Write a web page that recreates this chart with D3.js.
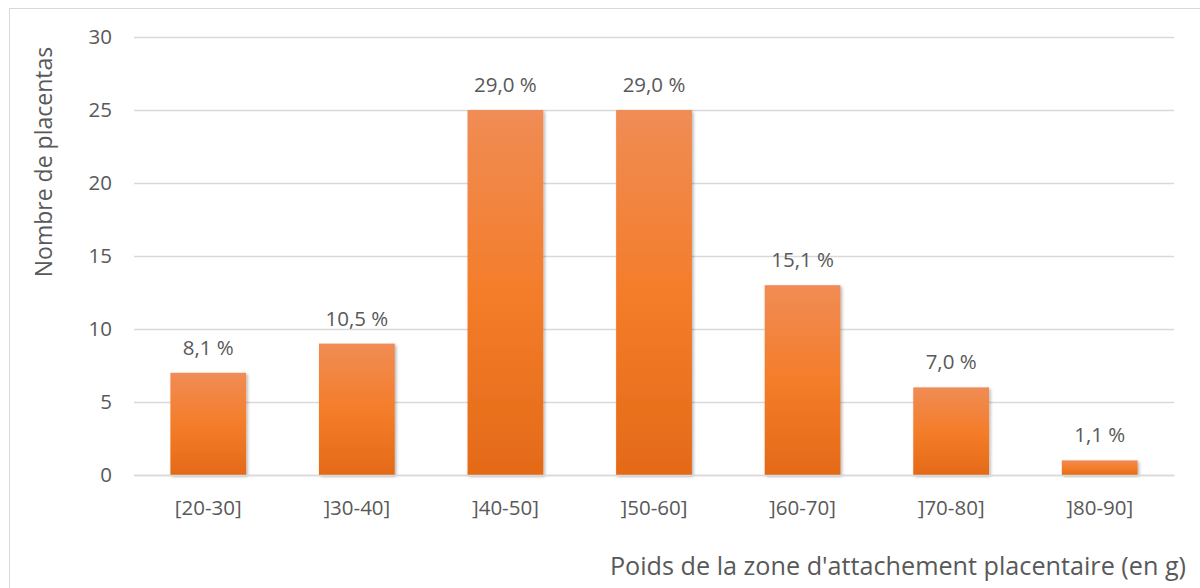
<!DOCTYPE html>
<html>
<head>
<meta charset="utf-8">
<script src="https://cdn.jsdelivr.net/npm/d3@7"></script>
<style>
  body { margin: 0; background: #fff; }
  svg { display: block; font-family: "Open Sans", sans-serif; }
</style>
</head>
<body>
<svg id="chart" width="1200" height="588"></svg>
<script>
// classes de poids (g)
const categories = ["[20-30]", "]30-40]", "]40-50]", "]50-60]", "]60-70]", "]70-80]", "]80-90]"]
const counts = [7, 9, 25, 25, 13, 6, 1]
const percentLabels = ["8,1 %", "10,5 %", "29,0 %", "29,0 %", "15,1 %", "7,0 %", "1,1 %"]
const yTicks = [0, 5, 10, 15, 20, 25, 30]

const yTitle = "Nombre de placentas"
const xTitle = "Poids de la zone d'attachement placentaire (en g)"

const setup = () => {
	const svg = d3.select("#chart")
	const plot = { left: 134, right: 1174, top: 37, bottom: 475 }
	const textColor = "#595959"
	const fontSize = 20.5

	// cadre du graphique
	svg.append("rect")
	   .attr("x", 9.5)
	   .attr("y", 8.5)
	   .attr("width", 1220)
	   .attr("height", 620)
	   .attr("fill", "none")
	   .attr("stroke", "#d9d9d9")

	const defs = svg.append("defs")
	const grad = defs.append("linearGradient")
	                 .attr("id", "barGrad")
	                 .attr("x1", 0).attr("y1", 0)
	                 .attr("x2", 0).attr("y2", 1)
	grad.append("stop").attr("offset", "0%").attr("stop-color", "#f08c55")
	grad.append("stop").attr("offset", "50%").attr("stop-color", "#f47d2a")
	grad.append("stop").attr("offset", "100%").attr("stop-color", "#e46a18")

	const shadow = defs.append("filter")
	                   .attr("id", "shadow")
	                   .attr("x", "-10%").attr("y", "-10%")
	                   .attr("width", "130%").attr("height", "130%")
	shadow.append("feDropShadow")
	      .attr("dx", 1.5).attr("dy", 1.5)
	      .attr("stdDeviation", 1.8)
	      .attr("flood-color", "#000")
	      .attr("flood-opacity", 0.3)

	const x = d3.scaleBand()
	            .domain(categories)
	            .range([plot.left, plot.right])
	            .paddingInner(0.49)
	            .paddingOuter(0.245)

	const y = d3.scaleLinear()
	            .domain([0, 30])
	            .range([plot.bottom, plot.top])

	// grille + graduations
	const yAxis = d3.axisLeft(y)
	                .tickValues(yTicks)
	                .tickSize(-(plot.right - plot.left))
	                .tickPadding(22)
	const gy = svg.append("g")
	              .attr("transform", `translate(${plot.left},0)`)
	              .call(yAxis)
	gy.select(".domain").remove()
	gy.selectAll(".tick line")
	  .attr("stroke", "#d9d9d9")
	  .attr("stroke-width", 1.3)
	gy.selectAll(".tick text")
	  .attr("fill", textColor)
	  .attr("font-size", fontSize)
	  .attr("font-family", "Open Sans")

	// barres
	svg.append("g")
	   .selectAll("rect")
	   .data(counts)
	   .join("rect")
	   .attr("x", (d, i) => x(categories[i]))
	   .attr("y", d => y(d))
	   .attr("width", x.bandwidth())
	   .attr("height", d => y(0) - y(d))
	   .attr("fill", "url(#barGrad)")
	   .attr("filter", "url(#shadow)")

	// étiquettes de pourcentage
	svg.append("g")
	   .selectAll("text")
	   .data(counts)
	   .join("text")
	   .attr("x", (d, i) => x(categories[i]) + x.bandwidth() / 2)
	   .attr("y", d => y(d) - 18)
	   .attr("text-anchor", "middle")
	   .attr("fill", textColor)
	   .attr("font-size", fontSize)
	   .text((d, i) => percentLabels[i])

	// axe des x
	const xAxis = d3.axisBottom(x).tickSize(0).tickPadding(25)
	const gx = svg.append("g")
	              .attr("transform", `translate(0,${plot.bottom})`)
	              .call(xAxis)
	gx.select(".domain")
	  .attr("stroke", "#d9d9d9")
	  .attr("stroke-width", 1.3)
	gx.selectAll(".tick text")
	  .attr("fill", textColor)
	  .attr("font-size", fontSize)
	  .attr("font-family", "Open Sans")

	// titres
	svg.append("text")
	   .attr("transform", "translate(52,162) rotate(-90)")
	   .attr("text-anchor", "middle")
	   .attr("fill", textColor)
	   .attr("font-size", 23)
	   .text(yTitle)

	svg.append("text")
	   .attr("x", 1186)
	   .attr("y", 575)
	   .attr("text-anchor", "end")
	   .attr("fill", textColor)
	   .attr("font-size", 25.2)
	   .text(xTitle)
}

document.addEventListener("DOMContentLoaded", setup)
</script>
</body>
</html>
